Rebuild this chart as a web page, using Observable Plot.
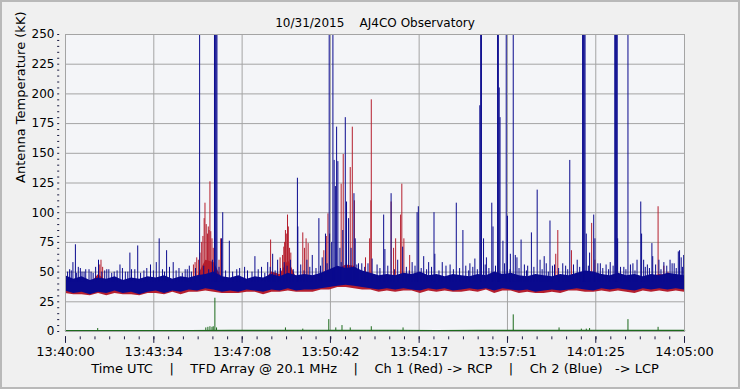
<!DOCTYPE html>
<html><head><meta charset="utf-8">
<script src="https://cdn.jsdelivr.net/npm/d3@7"></script>
<script src="https://cdn.jsdelivr.net/npm/@observablehq/plot@0.6"></script>
<style>
body{margin:0;background:#f0f0f0}
#chart svg{display:block;outline:2px solid #b9b9b9;outline-offset:-2px}
</style>
</head><body><div id="chart"></div>
<script>
// ---- texts ----
const title = "10/31/2015\u00a0\u00a0\u00a0\u00a0AJ4CO Observatory";
const yTitle = "Antenna Temperature (kK)";
const sp4 = "\u00a0\u00a0\u00a0\u00a0";
const caption = "Time UTC" + sp4 + "|" + sp4 + "TFD Array @ 20.1 MHz" + sp4 + "|" + sp4 +
  "Ch 1 (Red) -> RCP" + sp4 + "|" + sp4 + "Ch 2 (Blue)\u00a0\u00a0\u00a0-> LCP";

// ---- axes (seconds after 13:40:00) ----
const xMajor = [0, 214, 428, 642, 857, 1071, 1285, 1500];
const xLabels = ["13:40:00", "13:43:34", "13:47:08", "13:50:42", "13:54:17", "13:57:51", "14:01:25", "14:05:00"];
const xMinor = d3.range(43).map(i => i * 1500 / 42);
const yMajor = [0, 25, 50, 75, 100, 125, 150, 175, 200, 225, 250];
const yMinor = d3.range(0, 251, 5);

// ---- noise band envelope (kK), every 20 s ----
const bandT = d3.range(0, 1501, 20);
const blueHi = [47,44,46,43,45,44,46,43,45,44, 46,45,47,44,46,45,47,48,50,46, 45,47,44,46,45,48,46,49,47,48,
                47,49,52,55,53,54,51,49,47,48, 47,49,48,50,47,48,46,48,47,46, 48,47,50,48,49,47,46,48,47,46,
                48,47,49,51,50,48,47,49,47,48, 46,48,47,49,48,47];
const blueLo = [34,32,33,31,33,32,34,32,33,31, 33,34,32,34,33,35,34,36,35,33, 34,33,35,34,33,35,34,36,34,35,
                35,36,37,38,39,38,37,36,35,36, 35,36,35,34,36,35,36,34,35,36, 35,36,34,36,35,34,35,33,34,35,
                34,35,36,35,34,36,35,36,35,34, 36,35,36,35,36,35];
const redLo  = [32,31,31,30,32,30,32,31,31,30, 32,32,31,33,31,33,33,34,33,32, 32,32,33,33,31,33,33,34,33,33,
                33,35,35,37,37,36,35,35,33,34, 33,34,34,32,34,33,34,33,33,34, 33,35,32,34,34,32,33,32,32,33,
                32,34,34,33,33,34,33,34,33,32, 34,33,34,33,34,33];
const redHi  = [42,41,43,40,48,42,43,40,42,41, 43,42,44,41,43,42,46,60,58,44, 42,44,41,43,42,50,48,60,45,46,
                44,46,50,52,56,55,48,47,45,46, 45,47,46,47,44,45,43,45,44,43, 45,44,47,45,46,44,43,45,44,44,
                46,44,46,48,47,45,44,46,44,45, 44,46,48,47,46,45];

// ---- Ch 1 (red, RCP) bursts ----
const redSpikeT = [80,83,86,90,310,314,318,322,326,330,333,336,338,341,344,346,348,350,352,355,358,372,376,497,520,526,529,531,533,535,538,540,543,546,575,579,583,588,626,632,636,668,673,690,695,700,727,737,740,741,789,795,800,812,815,820,834,1188,1193,1226,1275,1283,1436,1450,1460];
const redSpikeV = [58,56,60,54,56,58,62,60,66,75,80,95,108,90,82,88,85,126,84,78,70,60,78,77,62,64,71,75,85,82,98,88,70,66,83,70,78,74,68,80,99,124,149,138,172,110,62,78,110,195,109,70,78,98,124,78,64,65,85,68,91,60,105,55,50];

// ---- Ch 2 (blue, LCP) bursts (300 = off scale) ----
const blueSpikeT = [325,361,363,365,367,639,648,1006,1008,1047,1049,1068,1085,1253,1255,1257,1259,1331,1333,1335,1337,1363,
  5,10,18,24,31,40,49,62,80,95,105,118,132,145,156,160,175,190,206,220,227,235,245,261,275,290,300,356,378,381,397,415,434,459,475,490,502,514,530,545,562,563,585,598,614,622,630,640,645,651,654,657,660,665,672,678,681,686,692,699,702,710,718,743,755,771,774,789,805,817,840,852,855,868,880,893,895,913,932,947,963,970,980,992,1004,1013,1020,1033,1036,1051,1053,1060,1071,1078,1090,1094,1104,1112,1120,1129,1143,1150,1160,1165,1174,1185,1205,1212,1222,1240,1262,1270,1280,1283,1296,1310,1320,1338,1353,1375,1385,1394,1396,1401,1410,1421,1423,1438,1450,1465,1475,1485,1488,1492,1498];
const blueSpikeV = [300,300,300,300,300,300,300,300,300,300,300,300,300,300,300,300,300,300,300,300,300,300,
  50,52,58,73,54,50,52,50,60,51,52,50,56,50,66,52,72,51,56,58,78,52,68,58,53,52,55,60,78,100,76,52,54,63,54,58,65,60,58,60,129,88,60,64,95,62,82,82,75,144,122,172,143,70,85,180,109,95,70,116,78,57,57,61,56,98,69,116,60,71,58,100,105,63,58,100,65,58,56,108,85,55,57,61,190,78,62,108,88,205,180,76,97,65,64,62,77,56,55,83,119,60,63,57,93,56,57,55,144,60,82,66,98,78,57,56,58,78,54,57,60,109,82,60,56,74,63,60,58,60,57,67,68,62,64];
// small ripples along the top of the noise band
const blueRippleT = [14,27,36,45,57,67,73,88,100,112,125,138,151,168,182,197,213,240,252,268,283,295,305,315,335,347,372,388,405,422,441,452,467,483,496,508,521,537,552,570,578,592,607,618,634,668,706,725,733,762,781,797,826,833,847,862,875,887,905,922,940,955,977,987,998,1017,1026,1042,1064,1077,1099,1117,1135,1155,1170,1180,1195,1217,1231,1246,1267,1290,1302,1316,1327,1345,1358,1369,1380,1405,1415,1430,1443,1457,1470,1480,1495];
const blueRippleV = [51,49,53,50,52,49,54,50,52,49,51,53,50,52,49,53,51,50,54,51,49,52,50,53,55,52,54,51,50,53,51,50,52,49,54,51,53,55,52,56,51,54,53,55,57,58,56,54,57,53,55,52,54,51,55,53,52,54,51,55,52,53,51,54,52,56,53,55,57,52,53,51,54,52,50,55,53,52,56,54,55,57,53,52,55,54,52,56,51,54,53,56,52,55,57,53,54];

// ---- difference channel (green) ----
const greenBaseT = [0,100,200,300,400,500,600,700,800,900,1000,1100,1200,1300,1400,1500];
const greenBaseV = [0.6,0.7,0.6,0.7,0.8,0.8,0.9,0.9,0.8,0.7,0.8,0.8,0.8,0.8,0.8,0.8];
const greenSpikeT = [78,340,345,350,355,358,362,366,533,575,638,655,670,690,741,818,1085,1196,1250,1262,1270,1363,1436];
const greenSpikeV = [2.5,3,3.5,4,3.5,4,28,3,3,2,10,3,5,3,4,3,14,3,2,2,2.5,10,3.5];

const blue = "#0a0a8e", red = "#b51f2e", green = "#1c6a1c", ink = "#1a1a40";

const band = bandT.map((t, i) => ({t, blo: blueLo[i], bhi: blueHi[i], rlo: redLo[i], rhi: redHi[i]}));
const rSp = redSpikeT.map((t, i) => ({t, v: redSpikeV[i]}));
const bSp = blueSpikeT.map((t, i) => ({t, v: blueSpikeV[i]}))
  .concat(blueRippleT.map((t, i) => ({t, v: blueRippleV[i]})));
const gBase = greenBaseT.map((t, i) => ({t, v: greenBaseV[i]}));
const gSp = greenSpikeT.map((t, i) => ({t, v: greenSpikeV[i]}));

const chart = Plot.plot({
  width: 740, height: 389,
  marginLeft: 65, marginRight: 56, marginTop: 34, marginBottom: 58,
  style: {background: "#f0f0f0", fontFamily: "DejaVu Sans", fontSize: "12px", color: "#000"},
  x: {domain: [0, 1500], axis: null},
  y: {domain: [0, 250], axis: null},
  marks: [
    Plot.frame({fill: "#f4f5f8"}),
    Plot.gridY(yMajor, {stroke: "#a4a4a4", strokeOpacity: 1}),
    Plot.gridX(xMajor, {stroke: "#a4a4a4", strokeOpacity: 1}),
    Plot.areaY(band, {x: "t", y1: "rlo", y2: "rhi", fill: red}),
    Plot.ruleX(rSp, {x: "t", y1: 40, y2: "v", stroke: red, clip: true}),
    Plot.areaY(band, {x: "t", y1: "blo", y2: "bhi", fill: blue}),
    Plot.ruleX(bSp, {x: "t", y1: 42, y2: "v", stroke: blue, clip: true}),
    Plot.line(gBase, {x: "t", y: "v", stroke: green}),
    Plot.ruleX(gSp, {x: "t", y1: 0.5, y2: "v", stroke: green}),
    Plot.frame({stroke: "#a4a4a4"}),
    Plot.ruleX(xMinor, {x: d => d, y1: -4.5, y2: -7, stroke: ink}),
    Plot.ruleX(xMajor, {x: d => d, y1: -4.5, y2: -10, stroke: ink}),
    Plot.ruleY(yMinor, {y: d => d, x1: -19, x2: -14, stroke: ink}),
    Plot.text(xMajor, {x: d => d, frameAnchor: "bottom", dy: 24, text: (d, i) => xLabels[i], fontSize: 13, fill: "#000"}),
    Plot.text(yMajor, {y: d => d, frameAnchor: "left", dx: -11, textAnchor: "end", text: d => String(d), fontSize: 12, fill: "#000"}),
    Plot.text([yTitle], {frameAnchor: "left", dx: -45, rotate: -90, text: d => d, fontSize: 13, fill: "#000"}),
    Plot.text([title], {frameAnchor: "top", dy: -16, text: d => d, fontSize: 12, fill: "#000"}),
    Plot.text([caption], {frameAnchor: "bottom", dy: 41, text: d => d, fontSize: 13, fill: "#000"})
  ]
});
document.getElementById("chart").appendChild(chart);
</script>
</body></html>
